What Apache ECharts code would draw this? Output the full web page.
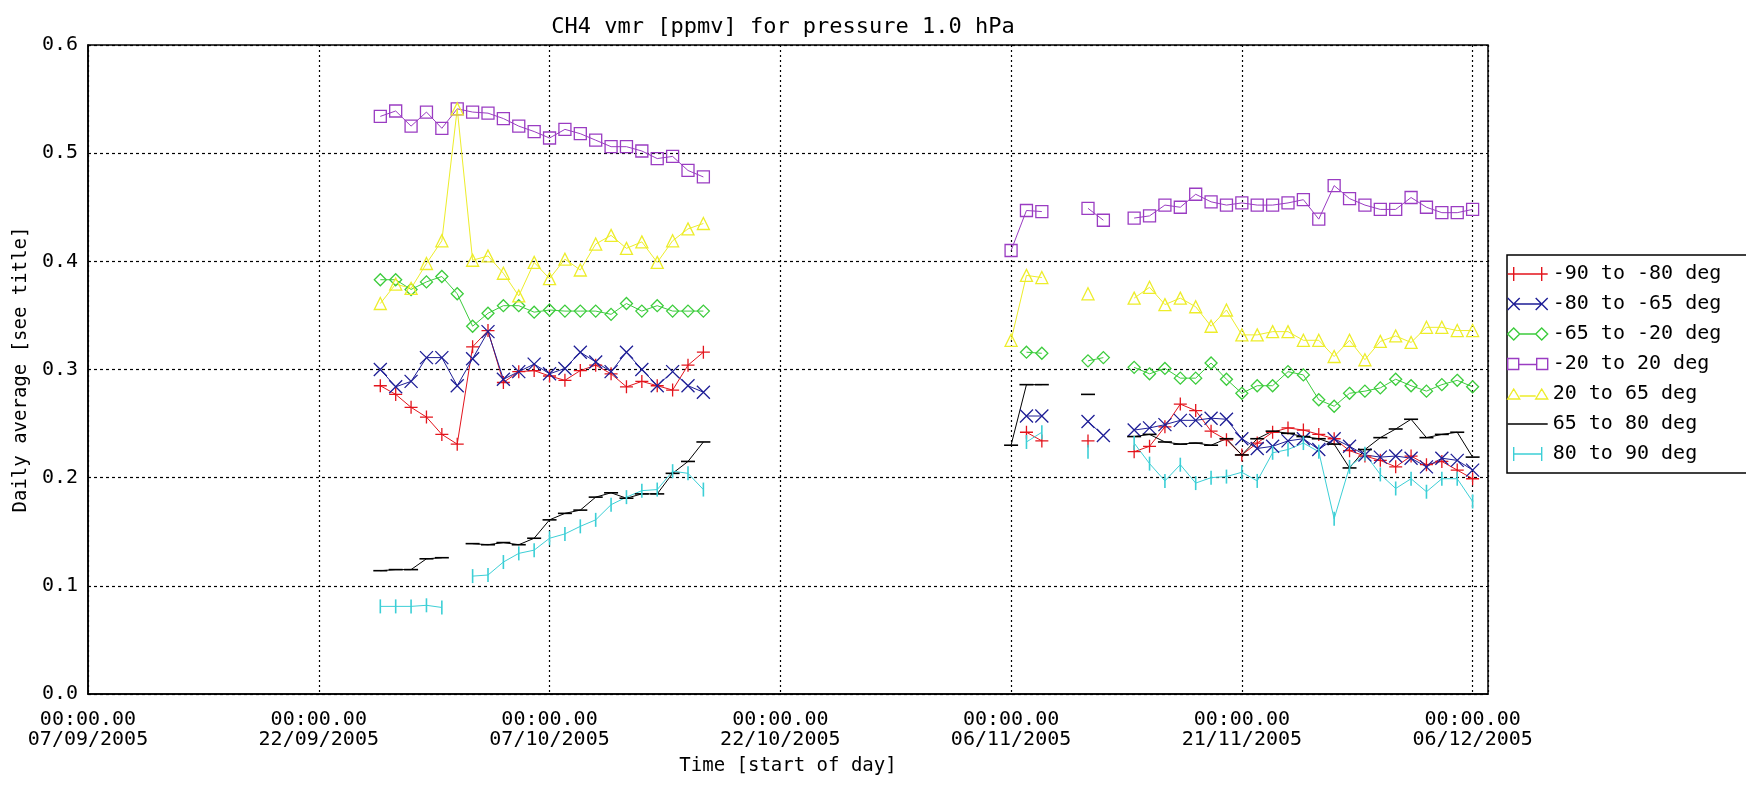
<!DOCTYPE html>
<html><head><meta charset="utf-8">
<script src="https://cdn.jsdelivr.net/npm/echarts/dist/echarts.min.js"></script>
<style>html,body{margin:0;padding:0;background:#fff}#c{width:1746px;height:787px}</style>
</head><body><div id="c"></div>
<script>
// ---- data (daily averages) ----
const dates = [
 "26/09/2005","27/09/2005","28/09/2005","29/09/2005","30/09/2005","01/10/2005","02/10/2005","03/10/2005",
 "04/10/2005","05/10/2005","06/10/2005","07/10/2005","08/10/2005","09/10/2005","10/10/2005","11/10/2005",
 "12/10/2005","13/10/2005","14/10/2005","15/10/2005","16/10/2005","17/10/2005",
 "27/10/2005",
 "06/11/2005","07/11/2005","08/11/2005","09/11/2005","10/11/2005","11/11/2005","12/11/2005","13/11/2005",
 "14/11/2005","15/11/2005","16/11/2005","17/11/2005","18/11/2005","19/11/2005","20/11/2005","21/11/2005",
 "22/11/2005","23/11/2005","24/11/2005","25/11/2005","26/11/2005","27/11/2005","28/11/2005","29/11/2005",
 "30/11/2005","01/12/2005","02/12/2005","03/12/2005","04/12/2005","05/12/2005","06/12/2005"
];
const seriesNames = ["-90 to -80 deg","-80 to -65 deg","-65 to -20 deg","-20 to 20 deg","20 to 65 deg","65 to 80 deg","80 to 90 deg"];
const lat_m90_m80 = [0.285,0.277,0.265,0.256,0.240,0.231,0.321,0.336,0.288,0.298,0.299,0.294,0.290,0.299,0.304,0.296,0.284,0.289,0.285,0.281,0.304,0.316,
 null,
 null,0.242,0.234,null,null,0.234,null,null,0.224,0.229,0.247,0.268,0.262,0.243,0.235,0.221,0.232,0.242,0.246,0.244,0.240,0.236,0.225,0.220,0.216,0.210,0.220,0.212,0.215,0.207,0.199];
const lat_m80_m65 = [0.300,0.284,0.289,0.311,0.311,0.285,0.310,0.335,0.291,0.298,0.305,0.296,0.301,0.316,0.307,0.298,0.316,0.300,0.285,0.298,0.285,0.279,
 null,
 null,0.257,0.257,null,null,0.252,0.239,null,0.244,0.246,0.249,0.253,0.253,0.255,0.254,0.236,0.227,0.229,0.234,0.236,0.226,0.236,0.229,0.221,0.219,0.220,0.218,0.210,0.218,0.216,0.207];
const lat_m65_m20 = [0.383,0.383,0.374,0.381,0.386,0.370,0.340,0.352,0.359,0.359,0.353,0.355,0.354,0.354,0.354,0.351,0.361,0.354,0.359,0.354,0.354,0.354,
 null,
 null,0.316,0.315,null,null,0.308,0.311,null,0.302,0.296,0.301,0.292,0.292,0.306,0.291,0.278,0.285,0.285,0.298,0.295,0.272,0.266,0.278,0.280,0.283,0.291,0.285,0.280,0.286,0.290,0.284];
const lat_m20_20 = [0.534,0.539,0.525,0.538,0.523,0.541,0.538,0.537,0.532,0.525,0.520,0.514,0.522,0.518,0.512,0.506,0.506,0.502,0.495,0.497,0.484,0.478,
 null,
 0.410,0.447,0.446,null,null,0.449,0.438,null,0.440,0.442,0.452,0.450,0.462,0.455,0.452,0.454,0.452,0.452,0.454,0.457,0.439,0.470,0.458,0.452,0.448,0.448,0.459,0.450,0.445,0.445,0.448];
const lat_20_65 = [0.361,0.379,0.375,0.398,0.419,0.541,0.401,0.405,0.389,0.368,0.399,0.384,0.402,0.392,0.416,0.424,0.412,0.418,0.399,0.419,0.430,0.435,
 null,
 0.327,0.387,0.385,null,null,0.370,null,null,0.366,0.376,0.360,0.366,0.358,0.340,0.355,0.332,0.332,0.335,0.335,0.327,0.327,0.312,0.327,0.309,0.326,0.331,0.325,0.339,0.339,0.336,0.336];
const lat_65_80 = [0.114,0.115,0.115,0.125,0.126,null,0.139,0.138,0.140,0.138,0.144,0.161,0.167,0.170,0.182,0.186,0.181,0.185,0.185,0.204,0.215,0.233,
 null,
 0.230,0.286,0.286,null,null,0.277,null,null,0.238,0.240,0.233,0.231,0.232,0.230,0.236,0.221,0.236,0.243,0.241,0.238,0.236,0.231,0.209,0.226,0.237,0.245,0.254,0.237,0.240,0.242,0.219];
const lat_80_90 = [0.081,0.081,0.081,0.082,0.080,null,0.109,0.110,0.122,0.130,0.133,0.144,0.148,0.155,0.161,0.175,0.182,0.188,0.189,0.206,0.204,0.189,
 null,
 null,0.233,0.242,null,null,0.224,null,null,0.232,0.213,0.197,0.212,0.195,0.200,0.201,0.205,0.197,0.223,0.226,0.232,0.224,0.162,0.210,0.222,0.203,0.190,0.199,0.187,0.199,0.199,0.178];
const xTickDays = [0,15,30,45,60,75,90];   // 07/09 .. 06/12
const yTicks = [0.0,0.1,0.2,0.3,0.4,0.5,0.6];

// ---- helpers ----
const T0 = Date.UTC(2005,8,7);
function dayIndex(s){const p=s.split('/');return (Date.UTC(+p[2],+p[1]-1,+p[0])-T0)/86400000;}
function dayLabel(v){const d=new Date(T0+v*86400000);const pad=n=>String(n).padStart(2,'0');
  return '00:00.00\n'+pad(d.getUTCDate())+'/'+pad(d.getUTCMonth()+1)+'/'+d.getUTCFullYear();}
const FONT='"DejaVu Sans Mono", monospace';
const colors = ['#e3141c','#1e1e96','#3ccc3c','#9a3cc2','#eded2a','#000000','#3ccfd6'];
const symbols = ['path://M5,0L5,10M0,5L10,5','path://M0,0L10,10M10,0L0,10','diamond','rect','triangle','rect','rect'];
const sizes = [13,13,12,12,12,[14,1.6],[1.6,14]];
const filled = [false,false,false,false,false,true,true];
const legendIcons = [
 'path://M6,0L6,14M0,7L40,7M34,0L34,14',
 'path://M0,1L12,13M12,1L0,13M6,7L34,7M28,1L40,13M40,1L28,13',
 'path://M0,7L6,1L12,7L6,13ZM12,7L28,7M28,7L34,1L40,7L34,13Z',
 'path://M0,1L11,1L11,12L0,12ZM11,7L29,7M29,1L40,1L40,12L29,12Z',
 'path://M0,12L6,2L12,12ZM12,9L28,9M28,12L34,2L40,12Z',
 'path://M0,0L40,0L40,1.6L0,1.6Z',
 'path://M6,0L6,14M6,7L34,7M34,0L34,14'
];
const legendFilled = [false,false,false,false,false,true,false];
const allData=[lat_m90_m80,lat_m80_m65,lat_m65_m20,lat_m20_20,lat_20_65,lat_65_80,lat_80_90];
const series = allData.map((arr,k)=>({
  name: seriesNames[k], type:'line',
  data: dates.map((d,i)=>[dayIndex(d), arr[i]==null?'-':arr[i]]),
  symbol: symbols[k], symbolSize: sizes[k], symbolKeepAspect: true,
  showSymbol:true, showAllSymbol:true, connectNulls:false, animation:false,
  lineStyle:{color:colors[k], width:1},
  itemStyle: filled[k]?{color:colors[k]}:{color:'rgba(0,0,0,0)', borderColor:colors[k], borderWidth:1.3},
  emphasis:{disabled:true}
}));
const chart = echarts.init(document.getElementById('c'), null, {renderer:'canvas'});
chart.setOption({
  backgroundColor:'#fff',
  animation:false,
  grid:{left:88, right:258, top:45, bottom:93, show:true, borderColor:'#000', borderWidth:1.5, containLabel:false, outerBoundsMode:'none'},
  graphic:[{type:'text', x:783, y:27, style:{text:'CH4 vmr [ppmv] for pressure 1.0 hPa', fontSize:22, fontFamily:FONT, fill:'#000', align:'center', verticalAlign:'middle'}}],
  xAxis:{type:'value', min:0, max:91, interval:15,
    axisLine:{show:true, lineStyle:{color:'#000', width:1.5}}, axisTick:{show:false},
    splitLine:{show:true, lineStyle:{color:'#000', type:[2,3], width:1.2}},
    axisLabel:{formatter:v=>xTickDays.indexOf(v)>=0?dayLabel(v):'', fontFamily:FONT, fontSize:20, lineHeight:20, color:'#000', margin:16},
    name:'Time [start of day]', nameLocation:'middle', nameGap:63, nameTextStyle:{fontFamily:FONT, fontSize:19, color:'#000'}},
  yAxis:{type:'value', min:yTicks[0], max:yTicks[yTicks.length-1], interval:0.1,
    axisLine:{show:true, lineStyle:{color:'#000', width:1.5}}, axisTick:{show:false},
    splitLine:{show:true, lineStyle:{color:'#000', type:[3,3], width:1.2}},
    axisLabel:{formatter:v=>v.toFixed(1), fontFamily:FONT, fontSize:20, color:'#000', margin:10},
    name:'Daily average [see title]', nameLocation:'middle', nameGap:54, nameRotate:90,
    nameTextStyle:{fontFamily:FONT, fontSize:19, color:'#000'}},
  legend:{orient:'vertical', left:1507, top:255, itemWidth:40, itemHeight:14, itemGap:10,
    padding:[9,36,9,0], borderColor:'#000', borderWidth:1.5, backgroundColor:'#fff', selectedMode:false,
    textStyle:{fontFamily:FONT, fontSize:20, color:'#000'},
    data: seriesNames.map((n,k)=>({name:n, icon:legendIcons[k],
      itemStyle: legendFilled[k]?{color:colors[k], borderWidth:0}:{color:'rgba(0,0,0,0)', borderColor:colors[k], borderWidth:1.4}}))},
  series: series
});
</script></body></html>
